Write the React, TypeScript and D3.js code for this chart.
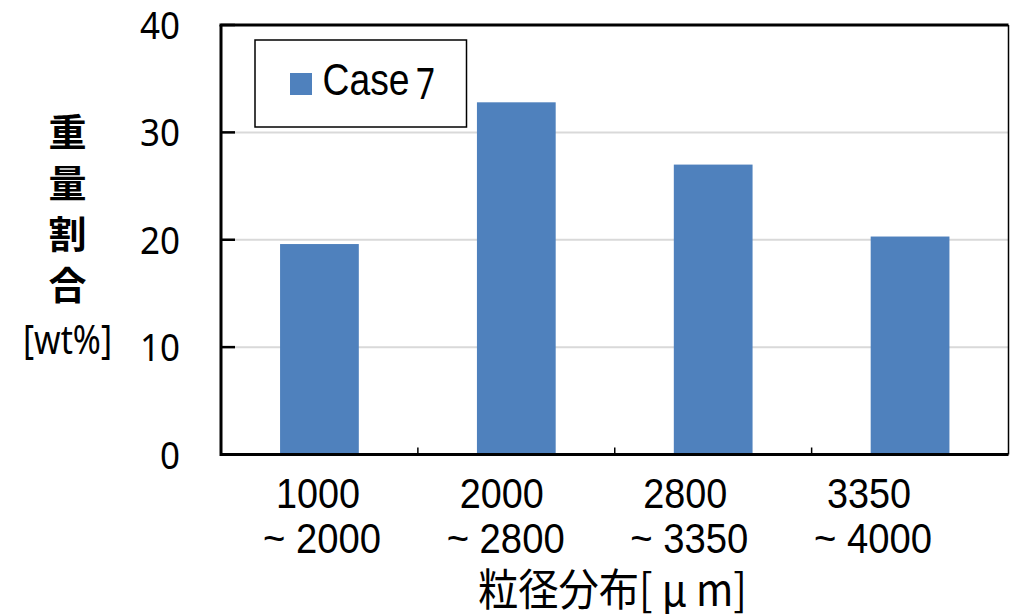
import React from "react";
import * as d3 from "d3";

// Particle size classes (µm) and weight fraction for Case 7
const sizeFrom = ["1000", "2000", "2800", "3350"];
const sizeTo = ["2000", "2800", "3350", "4000"];
const case7 = [19.6, 32.8, 27.0, 20.3];
const yTicks = [0, 10, 20, 30, 40];
const yTitleChars = ["重", "量", "割", "合"];

const W = 1010;
const H = 614;
const plot = { left: 221, right: 1008.5, top: 25, bottom: 454.5 };
const BAR = "#4f81bd";

export default function App() {
  const x = d3
    .scaleBand<string>()
    .domain(sizeFrom)
    .range([plot.left, plot.right])
    .paddingInner(0.6)
    .paddingOuter(0.3);
  const y = d3.scaleLinear().domain([0, 40]).range([plot.bottom, plot.top]);
  // category labels sit on a slightly tighter pitch than the bars
  const labelX = d3.scalePoint<string>().domain(sizeFrom).range([318, 869]);
  const step = x.step();
  const catEdges = d3.range(1, sizeFrom.length).map((i) => plot.left + i * step);

  return (
    <svg
      width={W}
      height={H}
      style={{ position: "absolute", left: 0, top: 0, background: "#fff" }}
      fontFamily="'Liberation Sans', Arial, sans-serif"
    >
      {/* gridlines */}
      {yTicks
        .filter((t) => t > 0 && t < 40)
        .map((t) => (
          <line
            key={t}
            x1={plot.left}
            x2={plot.right}
            y1={y(t)}
            y2={y(t)}
            stroke="#d9d9d9"
            strokeWidth={2}
          />
        ))}

      {/* bars */}
      {sizeFrom.map((c, i) => (
        <rect
          key={c}
          x={x(c)}
          y={y(case7[i])}
          width={x.bandwidth()}
          height={y(0) - y(case7[i])}
          fill={BAR}
        />
      ))}

      {/* plot frame */}
      <line x1={plot.left - 1.5} x2={plot.right} y1={plot.top} y2={plot.top} stroke="#000" strokeWidth={3} />
      <line x1={plot.right} x2={plot.right} y1={plot.top} y2={plot.bottom} stroke="#000" strokeWidth={1.5} />
      <line x1={plot.left} x2={plot.left} y1={plot.top} y2={plot.bottom + 1.5} stroke="#000" strokeWidth={3} />
      <line x1={plot.left} x2={plot.right} y1={plot.bottom} y2={plot.bottom} stroke="#000" strokeWidth={3} />

      {/* y ticks (inside) */}
      {yTicks.map((t) => (
        <line key={t} x1={plot.left} x2={plot.left + 14} y1={y(t)} y2={y(t)} stroke="#000" strokeWidth={2.5} />
      ))}
      {/* category separators */}
      {catEdges.map((e, i) => (
        <line key={i} x1={e} x2={e} y1={plot.bottom} y2={plot.bottom - 7} stroke="#000" strokeWidth={1.5} />
      ))}

      {/* y tick labels */}
      {yTicks.map((t) => (
        <text
          key={t}
          x={180}
          y={y(t) + 14}
          textAnchor="end"
          fontFamily="'Noto Sans', sans-serif"
          fontSize={39}
          textLength={String(t).length * 20}
          lengthAdjust="spacingAndGlyphs"
          fill="#000"
        >
          {t}
        </text>
      ))}

      {/* y axis title */}
      {yTitleChars.map((ch, i) => (
        <text
          key={ch}
          x={67.5}
          y={129 + i * 51}
          textAnchor="middle"
          dominantBaseline="central"
          fontFamily="'Noto Sans CJK JP', sans-serif"
          fontWeight={700}
          fontSize={38}
          fill="#000"
        >
          {ch}
        </text>
      ))}
      <text
        x={67.5}
        y={338}
        textAnchor="middle"
        dominantBaseline="central"
        fontFamily="'Noto Sans', sans-serif"
        fontSize={40}
        textLength={89}
        lengthAdjust="spacingAndGlyphs"
        fill="#000"
      >
        [wt%]
      </text>

      {/* x category labels */}
      {sizeFrom.map((c, i) => {
        const cx = labelX(c) as number;
        return (
          <g key={c}>
            <text
              x={cx}
              y={508}
              textAnchor="middle"
              fontSize={42}
              textLength={84}
              lengthAdjust="spacingAndGlyphs"
              fill="#000"
            >
              {c}
            </text>
            <text
              x={cx + 4}
              y={553}
              textAnchor="middle"
              fontSize={42}
              textLength={118}
              lengthAdjust="spacingAndGlyphs"
              fill="#000"
            >
              {`~ ${sizeTo[i]}`}
            </text>
          </g>
        );
      })}

      {/* x axis title */}
      <text
        x={612.5}
        y={606}
        textAnchor="middle"
        fontFamily="'Noto Sans CJK JP', sans-serif"
        fontSize={44}
        textLength={269}
        lengthAdjust="spacingAndGlyphs"
        fill="#000"
      >
        粒径分布[ μ m]
      </text>

      {/* legend */}
      <rect x={255} y={40} width={211.5} height={87} fill="#fff" stroke="#000" strokeWidth={1.5} />
      <rect x={290} y={73} width={22} height={22} fill={BAR} />
      <text x={322.5} y={95} fontSize={44} textLength={87} lengthAdjust="spacingAndGlyphs" fill="#000">
        Case
      </text>
      <text
        x={416}
        y={99}
        fontFamily="'Noto Sans', sans-serif"
        fontSize={43}
        textLength={19}
        lengthAdjust="spacingAndGlyphs"
        fill="#000"
      >
        7
      </text>
    </svg>
  );
}
